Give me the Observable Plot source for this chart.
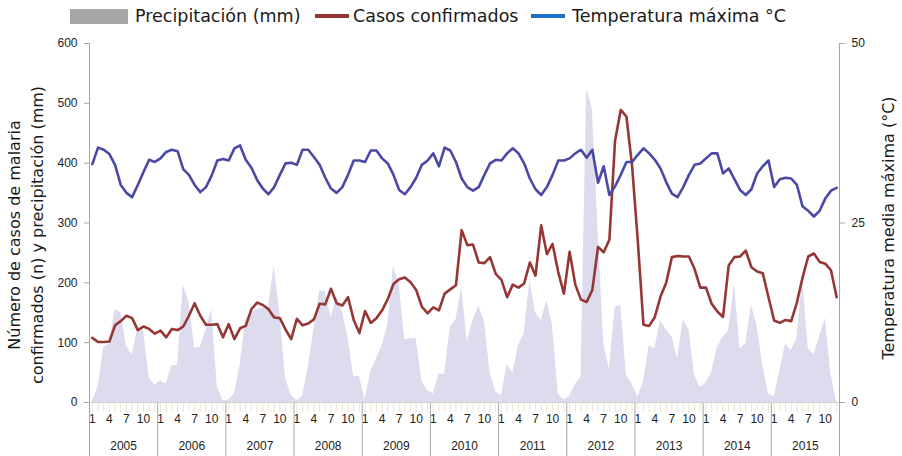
<!DOCTYPE html>
<html>
<head>
<meta charset="utf-8">
<script src="https://cdn.jsdelivr.net/npm/d3@7"></script>
<script src="https://cdn.jsdelivr.net/npm/@observablehq/plot@0.6"></script>
<style>
  html, body { margin: 0; padding: 0; background: #fff; }
  #wrap { width: 902px; position: relative; }
  #legend { position: relative; width: 902px; height: 34px; font-family: "DejaVu Sans", sans-serif; font-size: 17.5px; color: #1a1a1a; }
  #legend .sw { position: absolute; }
  #legend .tx { position: absolute; top: 5px; line-height: 22px; white-space: nowrap; }
</style>
</head>
<body>
<div id="wrap">
  <div id="legend"></div>
  <div id="chart"></div>
</div>
<script>
// ---- data (monthly, Jan 2005 – Dec 2015) ----
const years = [2005, 2006, 2007, 2008, 2009, 2010, 2011, 2012, 2013, 2014, 2015];
const monthLabels = [1, 4, 7, 10];

const precipitacion = [
  3, 26, 92, 98, 156, 150, 94, 80, 123, 121, 42, 29,       // 2005
  36, 31, 62, 62, 197, 169, 92, 92, 122, 156, 26, 3,       // 2006
  4, 14, 62, 138, 150, 156, 158, 157, 228, 150, 40, 12,    // 2007
  3, 10, 59, 122, 186, 186, 142, 175, 152, 109, 43, 44,    // 2008
  4, 52, 73, 95, 129, 228, 197, 104, 107, 107, 35, 20,     // 2009
  14, 48, 47, 126, 138, 192, 102, 137, 161, 137, 50, 18,   // 2010
  11, 64, 49, 95, 115, 204, 150, 137, 170, 128, 14, 4,     // 2011
  10, 30, 42, 525, 490, 290, 100, 55, 159, 162, 45, 31,    // 2012
  9, 34, 95, 90, 137, 121, 110, 73, 138, 122, 45, 25,      // 2013
  33, 50, 92, 109, 120, 198, 90, 98, 163, 128, 62, 14,     // 2014
  9, 53, 98, 87, 106, 207, 90, 80, 110, 141, 47, 0         // 2015
];

const casos = [
  108, 101, 101, 102, 129, 136, 145, 141, 121, 127, 123, 115, // 2005
  120, 109, 123, 121, 127, 145, 166, 145, 130, 130, 131, 109, // 2006
  131, 106, 124, 128, 156, 167, 163, 156, 142, 141, 122, 106, // 2007
  140, 129, 132, 139, 165, 164, 190, 166, 162, 176, 138, 116, // 2008
  153, 133, 141, 154, 173, 198, 206, 209, 201, 188, 160, 149, // 2009
  159, 154, 182, 189, 196, 288, 263, 264, 234, 233, 243, 215, // 2010
  205, 176, 197, 192, 199, 234, 212, 296, 248, 265, 218, 182, // 2011
  252, 197, 172, 168, 188, 260, 251, 272, 438, 489, 478, 395, // 2012
  270, 130, 128, 143, 177, 200, 243, 245, 244, 244, 223, 192, // 2013
  192, 165, 152, 143, 229, 243, 244, 254, 226, 219, 216, 176, // 2014
  137, 133, 138, 136, 167, 209, 244, 249, 235, 232, 221, 176  // 2015
];

const tempMax = [
  33.2, 35.5, 35.2, 34.6, 33.1, 30.3, 29.2, 28.6, 30.3, 32.1, 33.8, 33.5, // 2005
  34.0, 34.9, 35.2, 35.0, 32.5, 31.7, 30.3, 29.3, 30.0, 31.6, 33.7, 33.9, // 2006
  33.7, 35.4, 35.8, 33.8, 32.7, 31.0, 29.8, 29.0, 30.0, 31.7, 33.3, 33.4, // 2007
  33.1, 35.2, 35.2, 34.2, 33.1, 31.3, 29.8, 29.2, 30.0, 31.7, 33.7, 33.7, // 2008
  33.5, 35.1, 35.1, 34.0, 33.3, 31.7, 29.6, 29.0, 30.0, 31.3, 33.1, 33.7, // 2009
  34.7, 32.9, 35.5, 35.1, 33.5, 31.2, 30.0, 29.5, 30.0, 31.7, 33.3, 33.8, // 2010
  33.7, 34.7, 35.4, 34.7, 33.3, 31.2, 29.7, 28.9, 30.0, 31.7, 33.7, 33.7, // 2011
  34.0, 34.7, 35.2, 34.1, 35.2, 30.6, 32.9, 28.9, 30.1, 31.7, 33.5, 33.5, // 2012
  34.5, 35.4, 34.7, 33.8, 32.6, 30.7, 29.1, 28.6, 30.0, 31.7, 33.1, 33.3, // 2013
  34.0, 34.7, 34.7, 31.9, 32.6, 31.1, 29.6, 28.9, 29.7, 31.9, 32.9, 33.7, // 2014
  30.0, 31.1, 31.3, 31.2, 30.3, 27.3, 26.7, 25.9, 26.7, 28.4, 29.5, 29.9  // 2015
];

const leftTicks = [0, 100, 200, 300, 400, 500, 600];
const rightTicks = [0, 25, 50];

const legendItems = [
  {label: "Precipitación (mm)", color: "#a6a6a6"},
  {label: "Casos confirmados", color: "#953735"},
  {label: "Temperatura máxima °C", color: "#1f6dc0"}
];

// ---- build table ----
const rows = precipitacion.map((p, i) => ({
  i,
  year: years[Math.floor(i / 12)],
  month: (i % 12) + 1,
  precip: p,
  cases: casos[i],
  temp: tempMax[i]
}));
const ratio = 600 / 50; // right axis (°C) to left axis units

// ---- legend ----
const legend = document.getElementById("legend");
const legendPos = [
  {sw: [70, 9, 58, 15], tx: 135},
  {sw: [315, 14, 34, 4], tx: 353},
  {sw: [531, 14, 34, 4], tx: 572}
];
legendItems.forEach((it, k) => {
  const p = legendPos[k];
  const sw = document.createElement("div");
  sw.className = "sw";
  Object.assign(sw.style, {left: p.sw[0] + "px", top: p.sw[1] + "px", width: p.sw[2] + "px", height: p.sw[3] + "px", background: it.color});
  legend.appendChild(sw);
  const tx = document.createElement("div");
  tx.className = "tx";
  tx.style.left = p.tx + "px";
  tx.textContent = it.label;
  legend.appendChild(tx);
});

// ---- chart ----
const axisGray = "#a6a6a6";
const font = "'Liberation Sans', Arial, sans-serif";
const titleFont = "'DejaVu Sans', sans-serif";

const monthTickIdx = rows.filter(d => monthLabels.includes(d.month)).map(d => d.i);
const yearCenters = years.map((y, k) => k * 12 + 5.5);
const yearBounds = years.map((y, k) => k * 12 - 0.5).concat([years.length * 12 - 0.5]);

const chart = Plot.plot({
  width: 902,
  height: 422,
  marginTop: 9,
  marginBottom: 54,
  marginLeft: 89,
  marginRight: 63,
  x: {domain: [-0.5, rows.length - 0.5], axis: null, label: null},
  y: {domain: [0, 600], axis: null, label: null},
  style: {fontFamily: font, fontSize: "12px", color: "#333", background: "white", overflow: "visible"},
  marks: [
    Plot.areaY(rows, {x: "i", y: "precip", fill: "#dcdcee"}),
    // month tick lines
    Plot.axisX(rows.map(d => d.i), {anchor: "bottom", tickSize: 10, stroke: "#ebe5d2", tickFormat: () => "", label: null}),
    // month labels
    Plot.axisX(monthTickIdx, {anchor: "bottom", tickSize: 0, tickPadding: 12, tickFormat: i => String(rows[i].month), label: null, fontSize: 12, fill: "#222"}),
    // year labels
    Plot.axisX(yearCenters, {anchor: "bottom", tickSize: 0, tickPadding: 39, tickFormat: c => String(years[Math.floor(c / 12)]), label: null, fontSize: 12, fill: "#222"}),
    // year separators
    Plot.axisX(yearBounds, {anchor: "bottom", tickSize: 54, stroke: axisGray, tickFormat: () => "", label: null}),
    Plot.ruleY([0], {stroke: "#d0d0d0"}),
    Plot.ruleX([-0.5], {stroke: axisGray}),
    Plot.ruleX([rows.length - 0.5], {stroke: axisGray}),
    Plot.axisY(leftTicks, {anchor: "left", tickSize: 5, tickPadding: 7, stroke: axisGray, label: null, fontSize: 12, fill: "#222"}),
    Plot.axisY(rightTicks.map(t => t * ratio), {anchor: "right", tickSize: 5, tickPadding: 7, stroke: axisGray, tickFormat: v => String(v / ratio), label: null, fontSize: 12, fill: "#222"}),
    Plot.line(rows, {x: "i", y: "cases", stroke: "#953735", strokeWidth: 2.6}),
    Plot.line(rows, {x: "i", y: d => d.temp * ratio, stroke: "#4b49a6", strokeWidth: 2.6}),
    Plot.text(["Número de casos de malaria\nconfirmados (n) y precipitación (mm)"], {
      frameAnchor: "left", textAnchor: "middle", rotate: -90, dx: -65, dy: 12, lineHeight: 1.4,
      fontSize: 16, fontFamily: titleFont, fill: "#1a1a1a"
    }),
    Plot.text(["Temperatura media máxima (°C)"], {
      frameAnchor: "right", textAnchor: "middle", rotate: -90, dx: 49, dy: 5,
      fontSize: 16, fontFamily: titleFont, fill: "#1a1a1a"
    })
  ]
});
document.getElementById("chart").appendChild(chart);
</script>
</body>
</html>
